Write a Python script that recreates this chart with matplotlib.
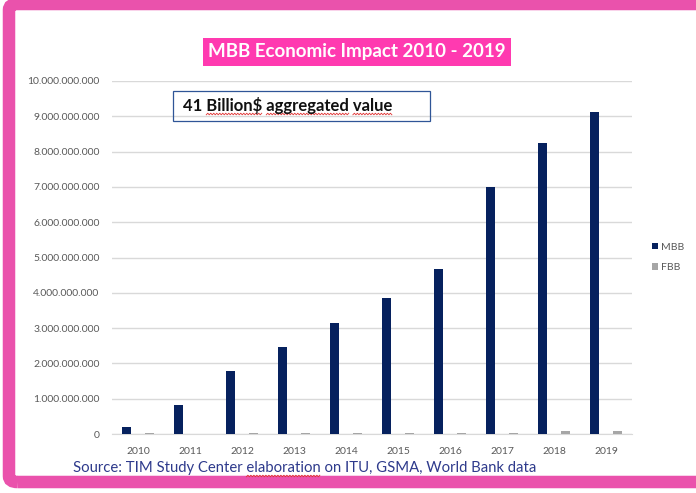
import numpy as np
import matplotlib
matplotlib.use("Agg")
import matplotlib.pyplot as plt
from matplotlib.patches import FancyBboxPatch, Rectangle
from matplotlib.ticker import FuncFormatter

plt.rcParams['font.family'] = ['Lato', 'DejaVu Sans']

# economic impact per year, USD
years = ['2010', '2011', '2012', '2013', '2014', '2015', '2016', '2017', '2018', '2019']
mbb = [0.21e9, 0.83e9, 1.78e9, 2.46e9, 3.14e9, 3.85e9, 4.67e9, 7.00e9, 8.24e9, 9.12e9]
fbb = [0.03e9, 0.0, 0.03e9, 0.03e9, 0.03e9, 0.03e9, 0.03e9, 0.03e9, 0.08e9, 0.08e9]

W, H = 696, 493
fig = plt.figure(figsize=(W / 100, H / 100), dpi=100)

def px(x0, y0, x1, y1):
    # pixel box (top-left origin) -> figure fraction rect
    return [x0 / W, 1 - y1 / H, (x1 - x0) / W, (y1 - y0) / H]

# pink frame around the slide
frame = FancyBboxPatch((9 / W, 11 / H), 700 / W, 478 / H,
                       boxstyle="round,pad=0,rounding_size=0.012",
                       transform=fig.transFigure, fill=False,
                       edgecolor='#EA52AC', linewidth=9, zorder=0)
fig.patches.append(frame)

ax = fig.add_axes(px(112, 81, 632, 434))
x = np.arange(len(years))
ax.bar(x - 0.22, mbb, width=0.18, color='#06215E', label='MBB', zorder=3)
ax.bar(x + 0.22, fbb, width=0.18, color='#A6A6A6', label='FBB', zorder=3)

ax.set_xlim(-0.5, len(years) - 0.5)
ax.set_ylim(0, 1e10)
ax.set_yticks(np.arange(0, 1.01e10, 1e9))
ax.yaxis.set_major_formatter(FuncFormatter(lambda v, p: f"{int(round(v)):,}".replace(',', '.')))
ax.set_xticks(x)
ax.set_xticklabels(years)
ax.tick_params(axis='both', length=0, labelsize=7.5, labelcolor='#595959')
ax.tick_params(axis='y', pad=9)
ax.tick_params(axis='x', pad=9)
ax.grid(axis='y', color='#D9D9D9', linewidth=1, zorder=0)
for s in ['top', 'right', 'left']:
    ax.spines[s].set_visible(False)
ax.spines['bottom'].set_color('#D9D9D9')
ax.set_facecolor('none')

leg = ax.legend(loc='center left', bbox_to_anchor=(1.02, 0.5), frameon=False,
                fontsize=7.5, handlelength=0.6, handleheight=0.6,
                handletextpad=0.3, labelspacing=1.1)
for t in leg.get_texts():
    t.set_color('#595959')

# title banner
fig.text(357 / W, 1 - 52 / H, 'MBB Economic Impact 2010 - 2019', ha='center', va='center',
         fontsize=13.5, fontweight='bold', color='white',
         bbox=dict(boxstyle='square,pad=0.3', facecolor='#FF3AB0', edgecolor='none'))

# annotation box
fig.patches.append(Rectangle((173 / W, 1 - 121 / H), 257 / W, 30 / H,
                             transform=fig.transFigure, fill=False,
                             edgecolor='#2F5597', linewidth=0.9))

renderer = fig.canvas.get_renderer()

def text_width(s, **kw):
    t = fig.text(0, 0, s, **kw)
    w = t.get_window_extent(renderer).width
    t.remove()
    return w

def squiggle(x0, x1, y):
    xs = np.arange(x0, x1 + 0.1, 1.5)
    ys = y + np.where(np.arange(len(xs)) % 2 == 0, 0.8, -0.8)
    fig.add_artist(plt.Line2D(xs / W, 1 - ys / H, color='#E03030', linewidth=0.6,
                              transform=fig.transFigure))

def underline_words(x0, y, text, words, **kw):
    # red spell-check wave under selected words of a left-aligned text
    for w in words:
        i = text.index(w)
        a = x0 + text_width(text[:i], **kw) if i else x0
        b = x0 + text_width(text[:i + len(w)], **kw)
        squiggle(a, b, y)

note = '41 Billion$ aggregated value'
note_kw = dict(fontsize=12, fontweight='bold')
fig.text(183 / W, 1 - 105 / H, note, ha='left', va='center', color='#111111', **note_kw)
underline_words(183, 114, note, ['Billion$', 'aggregated', 'value'], **note_kw)

source = 'Source: TIM Study Center elaboration on ITU, GSMA, World Bank data'
source_kw = dict(fontsize=10.7)
fig.text(73 / W, 1 - 468 / H, source, ha='left', va='center', color='#2E3A8C', **source_kw)
underline_words(73, 476, source, ['elaboration'], **source_kw)

fig.savefig('out.png', dpi=100)
